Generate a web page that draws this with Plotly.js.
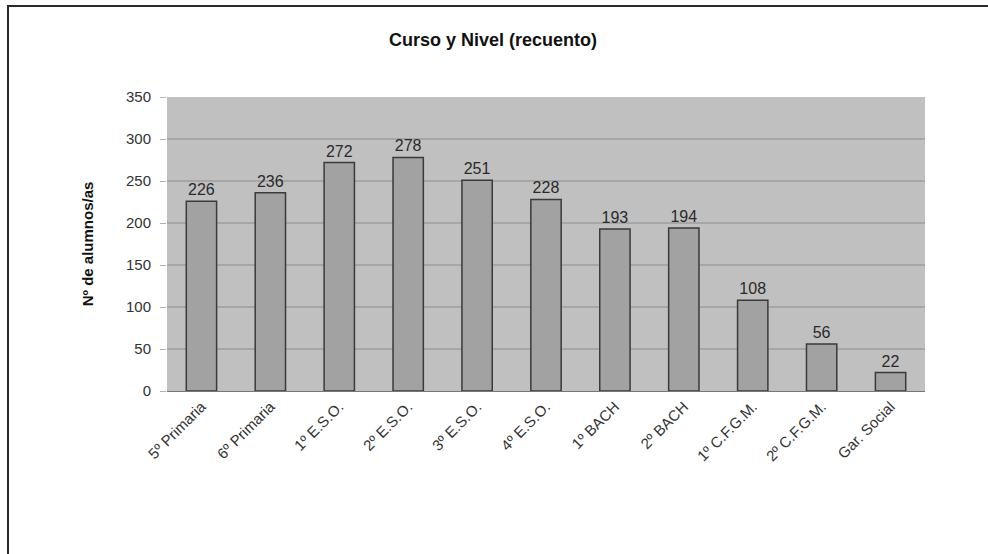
<!DOCTYPE html>
<html>
<head>
<meta charset="utf-8">
<script src="https://cdn.plot.ly/plotly-3.0.1.min.js"></script>
<style>
  html, body { margin: 0; padding: 0; background: #fff; }
  #wrap { position: relative; width: 988px; height: 554px; overflow: hidden; }
  #chart { position: absolute; left: 0; top: 0; width: 988px; height: 554px; }
  #frame { position: absolute; left: 7px; top: 5px; width: 1000px; height: 600px;
           border-left: 2px solid #2a2a2a; border-top: 2px solid #2a2a2a; pointer-events: none; }
</style>
</head>
<body>
<div id="wrap">
  <div id="chart"></div>
  <div id="frame"></div>
</div>
<script>
const categories = ["5º Primaria", "6º Primaria", "1º E.S.O.", "2º E.S.O.", "3º E.S.O.", "4º E.S.O.",
                    "1º BACH", "2º BACH", "1º C.F.G.M.", "2º C.F.G.M.", "Gar. Social"];
const counts = [226, 236, 272, 278, 251, 228, 193, 194, 108, 56, 22];
const yTicks = [0, 50, 100, 150, 200, 250, 300, 350];

const trace = {
  type: "bar",
  x: categories,
  y: counts,
  text: counts.map(String),
  textposition: "outside",
  cliponaxis: false,
  textfont: { family: "Liberation Sans, Arial, sans-serif", size: 16, color: "#2a2a2a" },
  marker: { color: "#a2a2a2", line: { color: "#3a3a3a", width: 1.5 } },
  hoverinfo: "none"
};

const layout = {
  width: 988, height: 554,
  margin: { l: 167, r: 63, t: 97, b: 163 },
  paper_bgcolor: "#ffffff",
  plot_bgcolor: "#c0c0c0",
  bargap: 0.56,
  showlegend: false,
  title: {
    text: "<b>Curso y Nivel (recuento)</b>",
    font: { family: "Liberation Sans, Arial, sans-serif", size: 18, color: "#111" },
    x: 0.499, xanchor: "center", y: 0.928, yanchor: "middle"
  },
  xaxis: {
    type: "category",
    tickangle: -45,
    tickfont: { family: "Liberation Sans, Arial, sans-serif", size: 15, color: "#333" },
    showline: true, linecolor: "#777", linewidth: 1,
    ticks: "", showgrid: false
  },
  yaxis: {
    range: [0, 350],
    tickvals: yTicks,
    ticktext: yTicks.map(String),
    tickfont: { family: "Liberation Sans, Arial, sans-serif", size: 15, color: "#333" },
    gridcolor: "#a6a6a6", gridwidth: 1.5,
    zeroline: false,
    showline: false,
    ticks: "outside", ticklen: 6, tickcolor: "#b0b0b0", tickwidth: 1,
    ticklabelstandoff: 6,
    title: {
      text: "<b>Nº de alumnos/as</b>",
      font: { family: "Liberation Sans, Arial, sans-serif", size: 15, color: "#111" },
      standoff: 28
    }
  }
};

Plotly.newPlot("chart", [trace], layout, { staticPlot: true, displayModeBar: false });
</script>
</body>
</html>
